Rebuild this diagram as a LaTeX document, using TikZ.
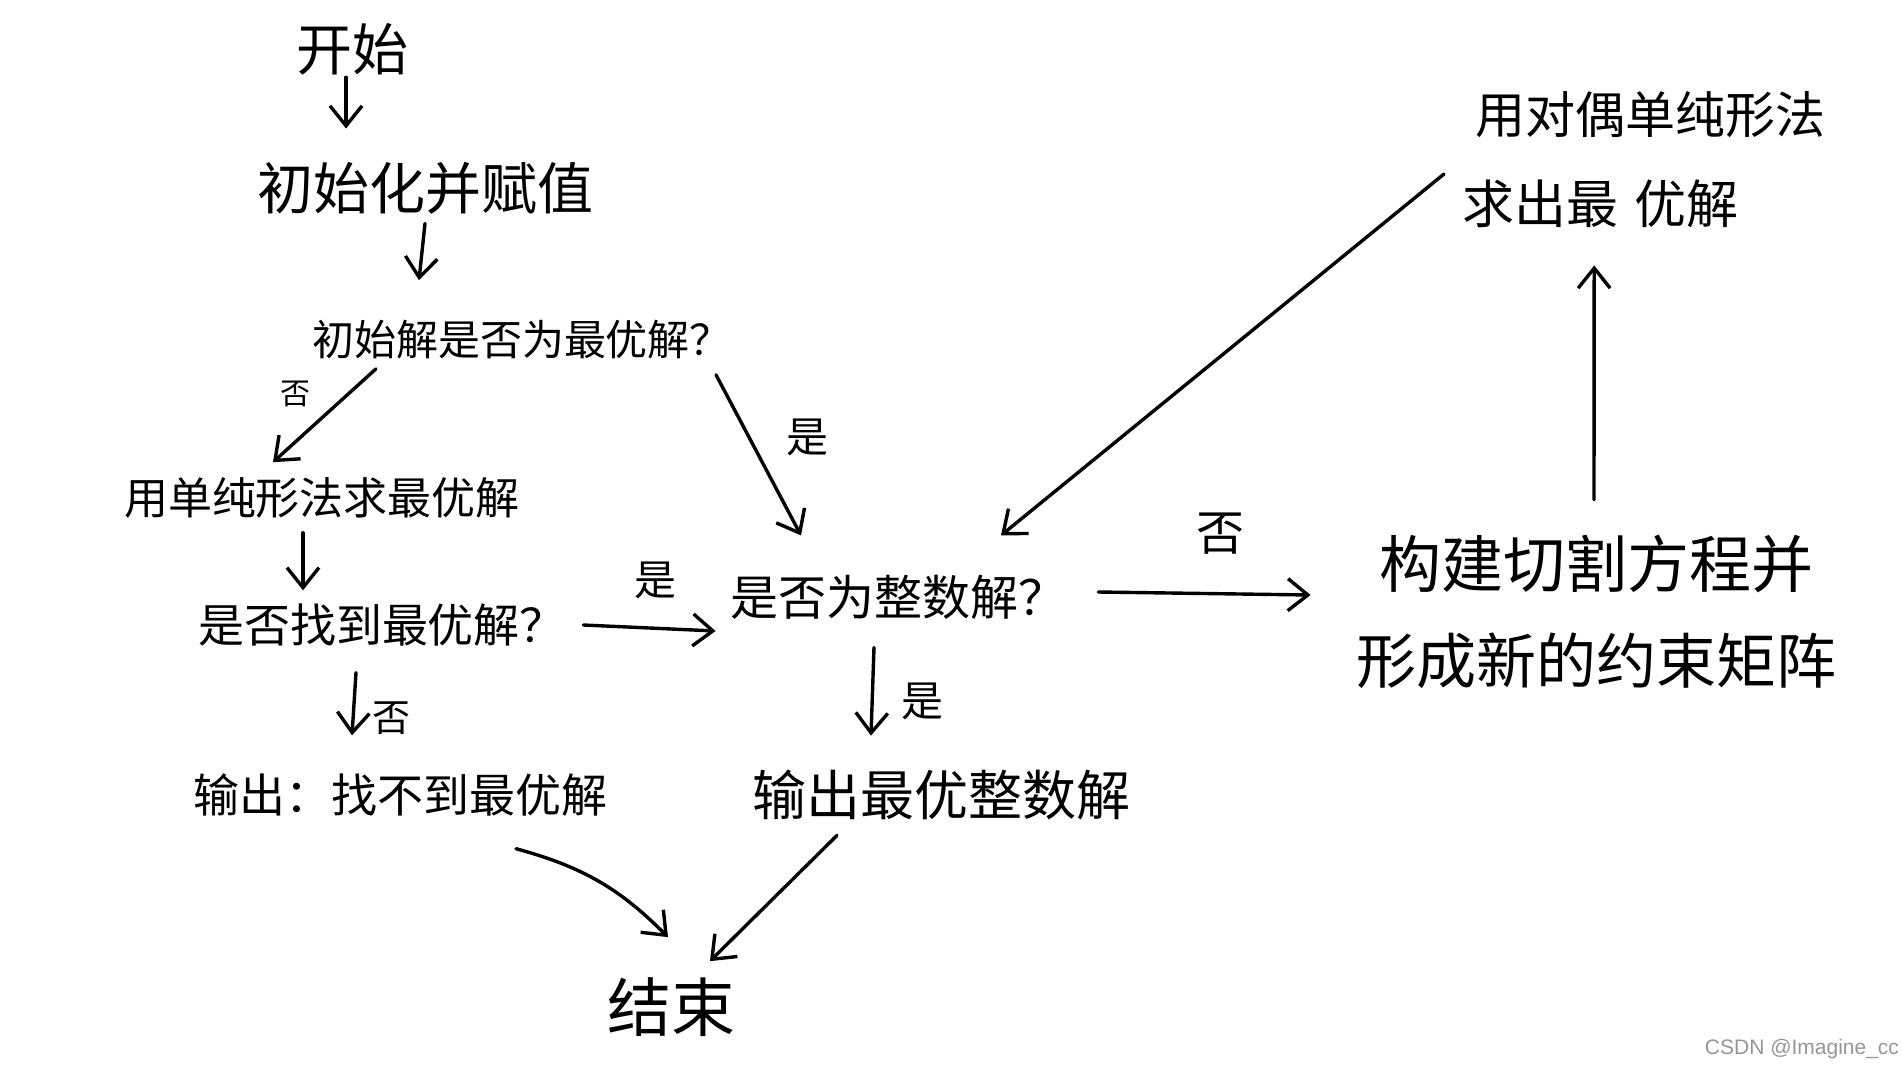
\documentclass[tikz,border=0pt]{standalone}
\usepackage{fontspec}
\setmainfont{Noto Sans CJK SC}
\newfontfamily\wmfont{Liberation Sans}
\usetikzlibrary{arrows.meta}
\definecolor{wmgray}{RGB}{150,150,150}
\begin{document}
\begin{tikzpicture}[x=0.5pt,y=-0.5pt,
  fs/.style={font=\fontsize{#1pt}{#1pt}\selectfont},
  txt/.style={inner sep=0pt},
  lbl/.style={inner sep=0pt},
  arr/.style={-{Straight Barb[length=10pt,width=16pt]}, line width=1.7pt, line cap=round, line join=round}]
\useasboundingbox (0,0) rectangle (1903,1072);
\fill[white] (0,0) rectangle (1903,1072);

\node[txt,fs=28] (start) at (352,49) {开始};
\node[txt,fs=28] (init) at (425,188) {初始化并赋值};
\node[txt,fs=21] (q1) at (522,340) {初始解是否为最优解？};
\node[txt,fs=22] (simplex) at (322,498) {用单纯形法求最优解};
\node[txt,fs=23] (q2) at (382,625) {是否找到最优解？};
\node[txt,fs=24] (q3) at (898,597) {是否为整数解？};
\node[txt,fs=31] (cut1) at (1596,564) {构建切割方程并};
\node[txt,fs=30] (cut2) at (1596,661) {形成新的约束矩阵};
\node[txt,fs=25,anchor=west] (dual1) at (1475,115) {用对偶单纯形法};
\node[txt,fs=26,anchor=west] (dual2) at (1462,204) {求出最\hspace{0.3em}优解};
\node[txt,fs=23] (out1) at (400,795) {输出：找不到最优解};
\node[txt,fs=27] (out2) at (941,795) {输出最优整数解};
\node[txt,fs=32] (finish) at (671,1007) {结束};

\node[lbl,fs=15] (l1) at (295,394) {否};
\node[lbl,fs=21] (l2) at (807,437) {是};
\node[lbl,fs=21] (l3) at (655,580) {是};
\node[lbl,fs=24] (l4) at (1220,534) {否};
\node[lbl,fs=21] (l5) at (922,701) {是};
\node[lbl,fs=19] (l6) at (391,718) {否};

\node[font=\wmfont\fontsize{10.5pt}{12pt}\selectfont, text=wmgray, inner sep=0pt] (wm) at (1802,1049) {CSDN @Imagine\_cc};

\draw[arr] ([shift={(-6,2)}]start.south) -- ([shift={(-79,-33)}]init.north);
\draw[arr] ([shift={(0,9)}]init.south) -- ([shift={(-103,-40)}]q1.north);
\draw[arr] ([shift={(-146,9)}]q1.south) -- ([shift={(-49,-15)}]simplex.north);
\draw[arr] ([shift={(194,15)}]q1.south) -- ([shift={(-97,-39)}]q3.north);
\draw[arr] ([shift={(-19,14)}]simplex.south) -- ([shift={(-79,-13)}]q2.north);
\draw[arr] ([shift={(17,0)}]q2.east) -- ([shift={(-14,34)}]q3.west);
\draw[arr] ([shift={(32,-5)}]q3.east) -- ([shift={(-68,31)}]cut1.west);
\draw[arr] ([shift={(-2,-35)}]cut1.north) -- ([shift={(-6,37)}]dual2.south);
\draw[arr] ([shift={(-18,-30)}]dual2.west) -- ([shift={(103,-39)}]q3.north);
\draw[arr] ([shift={(-24,28)}]q3.south) -- ([shift={(-70,-34)}]out2.north);
\draw[arr] ([shift={(-26,26)}]q2.south) -- ([shift={(-48,-38)}]out1.north);
\draw[arr] ([shift={(116,32)}]out1.south) to[bend left=15] ([shift={(-3,-40)}]finish.north);
\draw[arr] ([shift={(-104,15)}]out2.south) -- ([shift={(39,-16)}]finish.north);
\end{tikzpicture}
\end{document}
